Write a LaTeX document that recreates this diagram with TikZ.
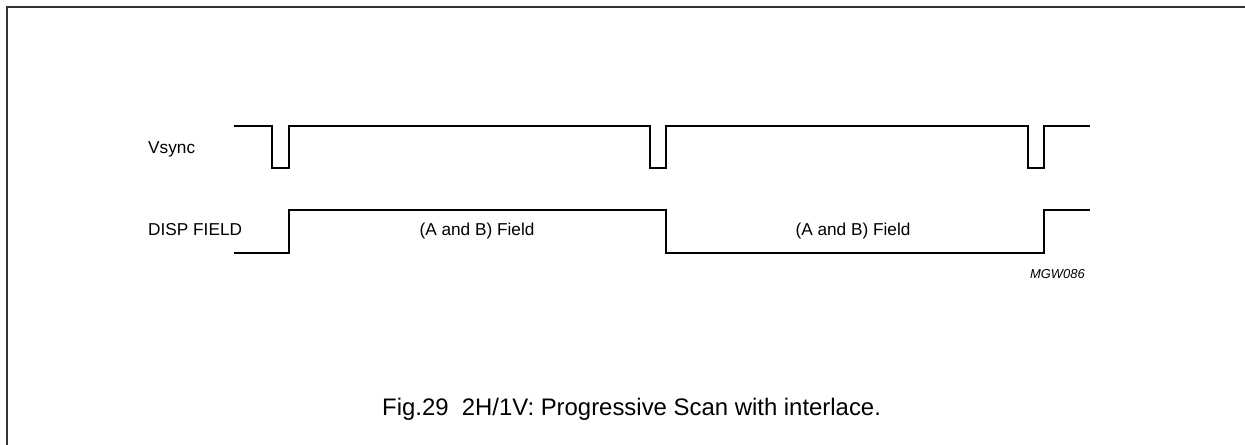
\documentclass[tikz,border=0pt]{standalone}
\usepackage{fontspec}
\setmainfont{Liberation Sans}
\begin{document}
\begin{tikzpicture}[x=1bp,y=-1bp,
  wave/.style={line width=2.4bp,line join=miter,black},
  frame/.style={line width=2bp,draw=black!80},
  lbl/.style={inner sep=0pt,font=\fontsize{17.3}{20}\selectfont},
  captxt/.style={inner sep=0pt,font=\fontsize{24}{28}\selectfont},
  codetxt/.style={inner sep=0pt,font=\fontsize{13}{15}\selectfont\itshape}]
\useasboundingbox (0,0) rectangle (1245,445);
\draw[frame] (7,446) -- (7,7.5) -- (1246,7.5);
\draw[wave] (234,126) -- (272,126) -- (272,168) -- (289,168) -- (289,126)
  -- (650,126) -- (650,168) -- (666,168) -- (666,126)
  -- (1028,126) -- (1028,168) -- (1044,168) -- (1044,126) -- (1090,126);
\draw[wave] (234,253) -- (289,253) -- (289,210) -- (666,210) -- (666,253)
  -- (1044,253) -- (1044,210) -- (1090,210);
\node[lbl,anchor=base west] (vs) at (148,154) {Vsync};
\node[lbl,anchor=base west] (df) at (148,236) {DISP FIELD};
\node[lbl,anchor=base] (f1) at (477,236) {(A and B) Field};
\node[lbl,anchor=base] (f2) at (853,236) {(A and B) Field};
\node[codetxt,anchor=base east] (mg) at (1085,279) {MGW086};
\node[captxt,anchor=base west] (cp) at (382,416) {Fig.29\ \ 2H/1V: Progressive Scan with interlace.};
\end{tikzpicture}
\end{document}
